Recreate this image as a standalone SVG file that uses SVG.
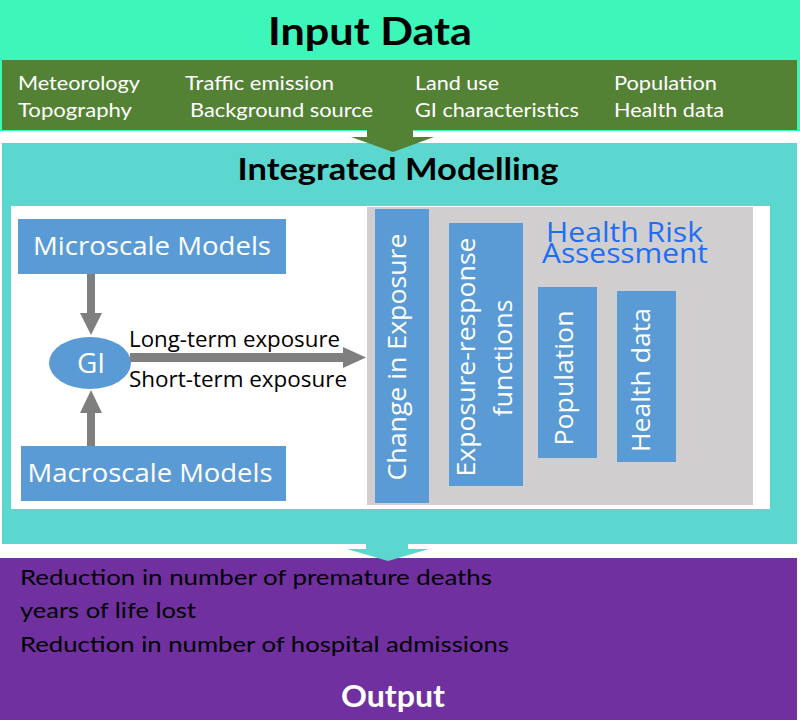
<svg xmlns="http://www.w3.org/2000/svg" width="800" height="720" viewBox="0 0 800 720">
<style>
.cal{font-family:Lato,"Open Sans","Liberation Sans",sans-serif}
.seg{font-family:"Open Sans","Noto Sans","Liberation Sans",sans-serif}
.w{fill:#ffffff}
.k{fill:#000000}
.box{fill:#5B9BD5}
.arr{fill:#7F7F7F}
</style>
<rect width="800" height="720" fill="#ffffff"/>
<g id="input-data">
<rect x="0" y="0" width="800" height="131" fill="#3CF6BA"/>
<text class="cal k" x="370" y="45" font-size="38" font-weight="bold" text-anchor="middle" textLength="204" lengthAdjust="spacingAndGlyphs">Input Data</text>
<rect x="2" y="60" width="795" height="70" fill="#548235"/>
<g class="cal w" font-size="20">
<text x="18" y="90" textLength="122" lengthAdjust="spacingAndGlyphs">Meteorology</text>
<text x="185" y="90" textLength="149" lengthAdjust="spacingAndGlyphs">Traffic emission</text>
<text x="415" y="90" textLength="84" lengthAdjust="spacingAndGlyphs">Land use</text>
<text x="614" y="90" textLength="103" lengthAdjust="spacingAndGlyphs">Population</text>
<text x="18" y="117" textLength="114" lengthAdjust="spacingAndGlyphs">Topography</text>
<text x="190" y="117" textLength="183" lengthAdjust="spacingAndGlyphs">Background source</text>
<text x="415" y="117" textLength="164" lengthAdjust="spacingAndGlyphs">GI characteristics</text>
<text x="614" y="117" textLength="110" lengthAdjust="spacingAndGlyphs">Health data</text>
</g>
</g>
<g id="integrated-modelling">
<rect x="2" y="143" width="795" height="401" fill="#5CD7CF"/>
<text class="cal k" x="398" y="180" font-size="31" font-weight="bold" text-anchor="middle" textLength="321" lengthAdjust="spacingAndGlyphs">Integrated Modelling</text>
<rect x="11" y="206" width="759" height="303" fill="#ffffff"/>
</g>
<g id="output">
<rect x="0" y="558" width="797" height="162" fill="#7030A0"/>
<g class="cal k" font-size="22">
<text x="20" y="585" textLength="472" lengthAdjust="spacingAndGlyphs">Reduction in number of premature deaths</text>
<text x="20" y="618" textLength="176" lengthAdjust="spacingAndGlyphs">years of life lost</text>
<text x="20" y="652" textLength="489" lengthAdjust="spacingAndGlyphs">Reduction in number of hospital admissions</text>
</g>
<text class="cal w" x="393" y="707" font-size="30" font-weight="bold" text-anchor="middle" textLength="104" lengthAdjust="spacingAndGlyphs">Output</text>
</g>
<g id="health-risk-assessment">
<rect x="367" y="207" width="386" height="298" fill="#D0CECE"/>
<text class="seg" x="546" y="242" font-size="27" fill="#1E6EF5" textLength="157" lengthAdjust="spacingAndGlyphs">Health Risk</text>
<text class="seg" x="542" y="263" font-size="27" fill="#1E6EF5" textLength="166" lengthAdjust="spacingAndGlyphs">Assessment</text>
</g>
<g id="change-in-exposure">
<rect class="box" x="375" y="209" width="54" height="294"/>
<text class="seg w" transform="translate(406,357) rotate(-90)" font-size="26" text-anchor="middle" textLength="247" lengthAdjust="spacingAndGlyphs">Change in Exposure</text>
</g>
<g id="exposure-response">
<rect class="box" x="449" y="223" width="74" height="263"/>
<text class="seg w" transform="translate(475,357) rotate(-90)" font-size="26" text-anchor="middle" textLength="239" lengthAdjust="spacingAndGlyphs">Exposure-response</text>
<text class="seg w" transform="translate(512,358) rotate(-90)" font-size="26" text-anchor="middle" textLength="117" lengthAdjust="spacingAndGlyphs">functions</text>
</g>
<g id="population">
<rect class="box" x="538" y="287" width="59" height="171"/>
<text class="seg w" transform="translate(573,378) rotate(-90)" font-size="26" text-anchor="middle" textLength="135" lengthAdjust="spacingAndGlyphs">Population</text>
</g>
<g id="health-data">
<rect class="box" x="617" y="291" width="59" height="171"/>
<text class="seg w" transform="translate(650,380) rotate(-90)" font-size="26" text-anchor="middle" textLength="144" lengthAdjust="spacingAndGlyphs">Health data</text>
</g>
<g id="microscale-models">
<rect class="box" x="18" y="219" width="268" height="55"/>
<text class="seg w" x="152" y="255" font-size="26" text-anchor="middle" textLength="238" lengthAdjust="spacingAndGlyphs">Microscale Models</text>
</g>
<g id="macroscale-models">
<rect class="box" x="21" y="446" width="265" height="55"/>
<text class="seg w" x="150" y="482" font-size="26" text-anchor="middle" textLength="245" lengthAdjust="spacingAndGlyphs">Macroscale Models</text>
</g>
<g id="gi">
<ellipse class="box" cx="90" cy="363" rx="41" ry="26"/>
<text class="seg w" x="91" y="373" font-size="28" text-anchor="middle">GI</text>
</g>
<g id="connectors">
<polygon fill="#548235" points="367,129 413,129 413,137 434,137 393,152 351,137 367,137"/>
<polygon fill="#5CD7CF" points="366,543 408,543 408,549 429,549 388,561 347,549 366,549"/>
<polygon class="arr" points="87,274 95,274 95,313 102,313 91,335 80,313 87,313"/>
<polygon class="arr" points="87,446 95,446 95,413 102,413 91,390 80,413 87,413"/>
<polygon class="arr" points="130,353 343,353 343,347 366,357.5 343,368 343,362 130,362"/>
<text class="seg k" x="129" y="347" font-size="21" textLength="211" lengthAdjust="spacingAndGlyphs">Long-term exposure</text>
<text class="seg k" x="129" y="387" font-size="21" textLength="218" lengthAdjust="spacingAndGlyphs">Short-term exposure</text>
</g>
</svg>
